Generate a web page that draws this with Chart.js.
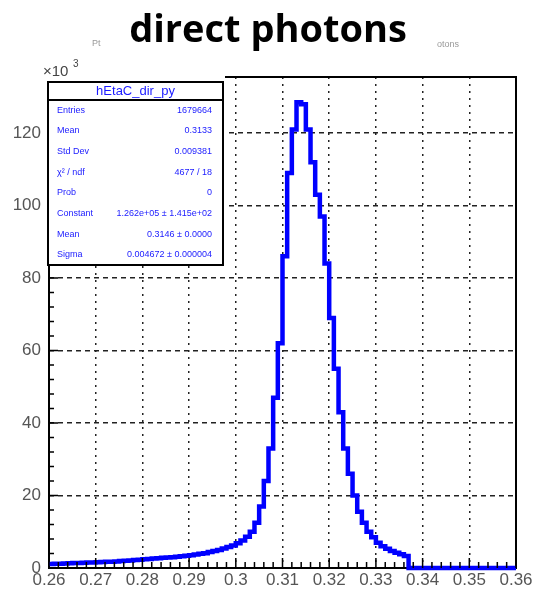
<!DOCTYPE html>
<html>
<head>
<meta charset="utf-8">
<script src="https://cdn.jsdelivr.net/npm/chart.js@4.4.1/dist/chart.umd.min.js"></script>
<style>
html, body { margin: 0; padding: 0; background: #fff; }
#wrap { position: relative; width: 536px; height: 593px; }
</style>
</head>
<body>
<div id="wrap"><canvas id="myChart" width="536" height="593"></canvas></div>
<script>
// histogram: 100 bins of 0.001 from 0.26 to 0.36, counts in units of 10^3
const binLow = 0.26;
const binWidth = 0.001;
const counts = [
    1.1, 1.15, 1.2, 1.25, 1.3, 1.35, 1.4, 1.45, 1.5, 1.55,
    1.6, 1.65, 1.7, 1.75, 1.8, 1.9, 2.0, 2.1, 2.2, 2.3,
    2.4, 2.5, 2.6, 2.7, 2.8, 2.9, 3.0, 3.1, 3.25, 3.4,
    3.5, 3.7, 3.9, 4.1, 4.4, 4.7, 5.0, 5.4, 5.8, 6.2,
    6.8, 7.6, 8.6, 10, 12.5, 17, 24, 33, 47, 62,
    86, 109, 121, 128.5, 128, 121, 112, 103, 97, 84,
    69, 55, 43, 33, 26, 20, 15.5, 12.5, 10, 8.5,
    7.0, 6.0, 5.3, 4.7, 4.2, 3.8, 3.3, 0, 0, 0,
    0, 0, 0, 0, 0, 0, 0, 0, 0, 0,
    0, 0, 0, 0, 0, 0, 0, 0, 0, 0
];
const xTicks = [0.26, 0.27, 0.28, 0.29, 0.30, 0.31, 0.32, 0.33, 0.34, 0.35, 0.36];
const xTickLabels = ['0.26', '0.27', '0.28', '0.29', '0.3', '0.31', '0.32', '0.33', '0.34', '0.35', '0.36'];
const yTicks = [0, 20, 40, 60, 80, 100, 120];
const histName = 'hEtaC_dir_py';
const statNames = ['Entries', 'Mean', 'Std Dev', 'χ² / ndf', 'Prob', 'Constant', 'Mean', 'Sigma'];
const statValues = ['1679664', '0.3133', '0.009381', '4677 / 18', '0', '1.262e+05 ± 1.415e+02', '0.3146 ± 0.0000', '0.004672 ± 0.000004'];

// step points at the low edge of each bin, closed at the upper edge
const points = counts.map(function(c, i) { return { x: binLow + i * binWidth, y: c }; });
points.push({ x: binLow + counts.length * binWidth, y: counts[counts.length - 1] });

const rootFrame = {
    id: 'rootFrame',
    beforeDatasetsDraw(chart) {
        const ctx = chart.ctx;
        const a = chart.chartArea;
        ctx.save();
        ctx.strokeStyle = '#000';
        ctx.lineWidth = 2;
        ctx.strokeRect(a.left, a.top, a.right - a.left, a.bottom - a.top);
        ctx.restore();
    },
    afterDatasetsDraw(chart) {
        const ctx = chart.ctx;
        const a = chart.chartArea;
        const xs = chart.scales.x;
        const ys = chart.scales.y;
        ctx.save();
        ctx.strokeStyle = '#000';
        ctx.lineWidth = 1.5;
        ctx.beginPath();
        // inward ticks on the x axis, minor every 0.002
        for (let k = 0; k <= 50; k++) {
            const px = xs.getPixelForValue(0.26 + k * 0.002);
            const len = (k % 5 === 0) ? 10 : 6;
            ctx.moveTo(px, a.bottom);
            ctx.lineTo(px, a.bottom - len);
        }
        // inward ticks on the y axis, minor every 4
        for (let k = 0; k * 4 <= ys.max; k++) {
            const py = ys.getPixelForValue(k * 4);
            const len = (k % 5 === 0) ? 9 : 5;
            ctx.moveTo(a.left, py);
            ctx.lineTo(a.left + len, py);
        }
        ctx.stroke();

        // stats box
        const bx = 48, by = 82, bw = 175, bh = 183;
        ctx.fillStyle = '#fff';
        ctx.fillRect(bx - 2, a.top - 2, bw + 4, by - a.top + bh + 3);
        ctx.lineWidth = 2;
        ctx.strokeRect(bx, by, bw, bh);
        ctx.beginPath();
        ctx.moveTo(bx, 100);
        ctx.lineTo(bx + bw, 100);
        ctx.stroke();

        ctx.fillStyle = '#1a1aff';
        ctx.font = '13px "Liberation Sans", Arial, sans-serif';
        ctx.textAlign = 'center';
        ctx.textBaseline = 'middle';
        ctx.fillText(histName, bx + bw / 2, 91);
        ctx.font = '9px "Liberation Sans", Arial, sans-serif';
        const rowH = (by + bh - 100) / statNames.length;
        statNames.forEach(function(n, i) {
            const y = 100 + rowH * (i + 0.5);
            ctx.textAlign = 'left';
            ctx.fillText(n, bx + 9, y);
            ctx.textAlign = 'right';
            ctx.fillText(statValues[i], bx + bw - 11, y);
        });

        // exponent above the y axis
        ctx.fillStyle = '#444';
        ctx.textAlign = 'left';
        ctx.textBaseline = 'alphabetic';
        ctx.font = '15px "Liberation Sans", Arial, sans-serif';
        ctx.fillText('×10', 43, 76);
        ctx.font = '10px "Liberation Sans", Arial, sans-serif';
        ctx.fillText('3', 73, 67);

        // faint leftover of the original pad title
        ctx.fillStyle = '#999';
        ctx.font = '9px "Liberation Sans", Arial, sans-serif';
        ctx.fillText('Pt', 92, 46);
        ctx.fillText('otons', 437, 47);

        // overlaid title
        ctx.fillStyle = '#000';
        ctx.textAlign = 'center';
        ctx.font = 'bold 38px "Open Sans", Lato, sans-serif';
        ctx.fillText('direct photons', 268, 42);
        ctx.restore();
    }
};

const ctx = document.getElementById('myChart').getContext('2d');
const myChart = new Chart(ctx, {
    type: 'line',
    data: {
        datasets: [{
            label: histName,
            data: points,
            borderColor: '#0000ff',
            borderWidth: 4.5,
            pointRadius: 0,
            stepped: 'before',
            fill: false,
            clip: 4
        }]
    },
    options: {
        responsive: false,
        animation: false,
        devicePixelRatio: 1,
        layout: {
            padding: { top: 77, right: 20, left: 0, bottom: 0 }
        },
        plugins: {
            legend: { display: false },
            tooltip: { enabled: false }
        },
        scales: {
            x: {
                type: 'linear',
                min: 0.26,
                max: 0.36,
                afterBuildTicks: function(scale) {
                    scale.ticks = xTicks.map(function(v) { return { value: v }; });
                },
                afterFit: function(scale) { scale.height = 25; },
                border: { display: false, dash: [2, 5] },
                grid: {
                    color: '#222',
                    lineWidth: 1.5,
                    drawTicks: false
                },
                ticks: {
                    padding: 2,
                    color: '#555',
                    font: { family: '"Liberation Sans", Arial, sans-serif', size: 17 },
                    maxRotation: 0,
                    autoSkip: false,
                    callback: function(v, i) { return xTickLabels[i]; }
                }
            },
            y: {
                min: 0,
                max: 135.5,
                afterBuildTicks: function(scale) {
                    scale.ticks = yTicks.map(function(v) { return { value: v }; });
                },
                afterFit: function(scale) { scale.width = 49; },
                border: { display: false, dash: [5, 4] },
                grid: {
                    color: '#222',
                    lineWidth: 1.5,
                    drawTicks: false
                },
                ticks: {
                    padding: 8,
                    color: '#555',
                    font: { family: '"Liberation Sans", Arial, sans-serif', size: 17 },
                    callback: function(v) { return String(v); }
                }
            }
        }
    },
    plugins: [rootFrame]
});
</script>
</body>
</html>
